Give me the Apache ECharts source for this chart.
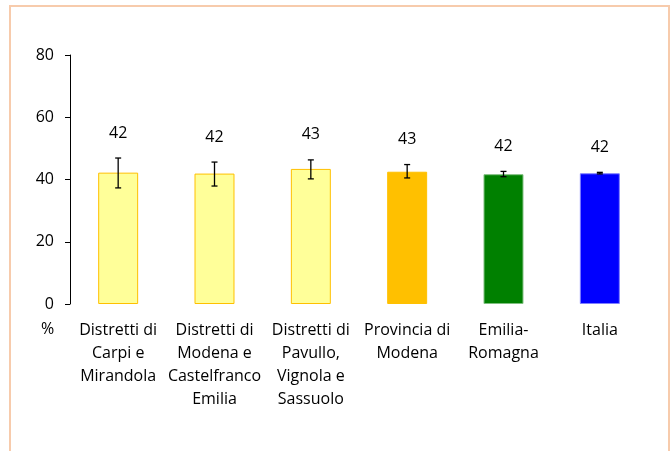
<!DOCTYPE html>
<html>
<head>
<meta charset="utf-8">
<script src="https://cdn.jsdelivr.net/npm/echarts@6/dist/echarts.min.js"></script>
<style>
  html, body { margin: 0; padding: 0; background: #fff; }
  #chart { width: 672px; height: 451px; }
</style>
</head>
<body>
<div id="chart"></div>
<script>
// categorie e valori
const categories = [
  'Distretti di\nCarpi e\nMirandola',
  'Distretti di\nModena e\nCastelfranco\nEmilia',
  'Distretti di\nPavullo,\nVignola e\nSassuolo',
  'Provincia di\nModena',
  'Emilia-\nRomagna',
  'Italia'
]
const values = [42.2, 41.9, 43.4, 42.5, 41.7, 42.0]
const errLow = [37.3, 37.9, 40.2, 40.5, 40.9, 41.8]
const errHigh = [46.9, 45.6, 46.3, 44.8, 42.6, 42.3]
const yTicks = [0, 20, 40, 60, 80]

const fillColors = ['#FFFF99', '#FFFF99', '#FFFF99', '#FFC000', '#008000', '#0000FF']
const borderColors = ['#FFC000', '#FFC000', '#FFC000', '#FFC000', '#7FBF7F', '#7F7FFF']
const font = '"Open Sans", "Noto Sans", sans-serif'

const chart = echarts.init(document.getElementById('chart'))

const barData = values.map((v, i) => ({
  value: v,
  itemStyle: { color: fillColors[i], borderColor: borderColors[i], borderWidth: 1 }
}))
const errData = values.map((v, i) => [i, errLow[i], errHigh[i], v])

chart.setOption({
  animation: false,
  graphic: [{
    type: 'rect',
    shape: { x: 10, y: 6, width: 659, height: 470 },
    style: { fill: 'none', stroke: '#F7CBAC', lineWidth: 2 },
    silent: true
  }, {
    type: 'text',
    left: 41,
    top: 321,
    style: { text: '%', font: '16px ' + font, fill: '#000' }
  }],
  grid: {
    top: 55,
    bottom: 147,
    left: 70,
    right: 24
  },
  xAxis: {
    type: 'category',
    data: categories,
    axisLine: { show: false },
    axisTick: { show: false },
    axisLabel: {
      interval: 0,
      margin: 15,
      color: '#000',
      fontSize: 16,
      fontFamily: font,
      lineHeight: 23
    }
  },
  yAxis: {
    type: 'value',
    min: yTicks[0],
    max: yTicks[yTicks.length - 1],
    interval: 20,
    splitLine: { show: false },
    axisLine: { show: true, lineStyle: { color: '#000', width: 1 } },
    axisTick: { show: true, length: 5, lineStyle: { color: '#000' } },
    axisLabel: {
      color: '#000',
      fontSize: 16,
      fontFamily: font,
      margin: 16
    }
  },
  series: [{
    type: 'bar',
    data: barData,
    barWidth: '41.5%'
  }, {
    type: 'custom',
    data: errData,
    z: 10,
    renderItem: function(params, api) {
      const x = api.coord([api.value(0), 0])[0]
      const lo = api.coord([api.value(0), api.value(1)])[1]
      const hi = api.coord([api.value(0), api.value(2)])[1]
      const cap = 3
      const line = { stroke: '#000', lineWidth: 1.3 }
      return {
        type: 'group',
        children: [
          { type: 'line', shape: { x1: x, y1: hi, x2: x, y2: lo }, style: line },
          { type: 'line', shape: { x1: x - cap, y1: hi, x2: x + cap, y2: hi }, style: line },
          { type: 'line', shape: { x1: x - cap, y1: lo, x2: x + cap, y2: lo }, style: line },
          {
            type: 'text',
            style: {
              text: String(Math.round(api.value(3))),
              x: x,
              y: hi - 25,
              align: 'center',
              verticalAlign: 'middle',
              font: '16px ' + font,
              fill: '#000'
            }
          }
        ]
      }
    }
  }]
})
</script>
</body>
</html>
